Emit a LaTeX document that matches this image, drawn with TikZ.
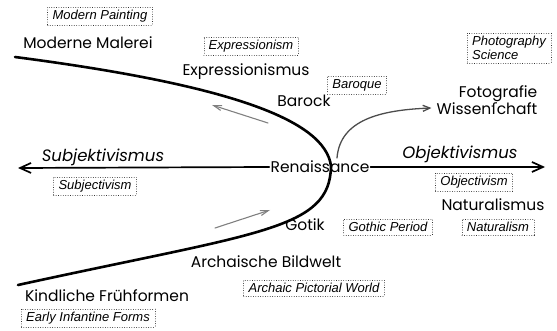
\documentclass[tikz,border=0pt]{standalone}
\usepackage{fontspec}
\setmainfont{Liberation Sans}
\newfontfamily\handfont{Poppins}
\newfontfamily\longsfont{DejaVu Sans}
\usetikzlibrary{arrows.meta}

\begin{document}
\begin{tikzpicture}[x=1pt, y=-1pt, line cap=round,
        german_style/.style={font=\handfont\fontsize{15.5}{17}\selectfont, inner sep=1pt, align=right},
        german_italic_style/.style={german_style, font=\handfont\itshape\fontsize{16.5}{18}\selectfont},
        english_style/.style={draw=black!80, dotted, thin, font=\itshape\fontsize{13}{14}\selectfont, inner xsep=5pt, inner ysep=3pt, align=left},
        curve_style/.style={draw=black, line width=2.6pt},
        axis_style/.style={draw=black, line width=1.7pt, -{Straight Barb[length=11pt,width=10pt]}},
        branch_style/.style={draw=black!70, line width=1.3pt, -{Straight Barb[length=7pt,width=6pt]}},
        flow_style/.style={draw=black!50, line width=1.1pt, -{Straight Barb[length=8pt,width=5pt]}}]

        \useasboundingbox (0,0) rectangle (557,331);

        \node [german_style](renaissance) at (320,167) {Renaissance};
        \node [german_style](moderne) at (88,43) {Moderne Malerei};
        \node [german_style](expressionismus) at (246,72) {Expressionismus};
        \node [german_style](barock) at (304,101) {Barock};
        \node [german_style](fotografie) at (487,100) {Fotografie\\Wissen{\longsfont ſ}chaft};
        \node [german_italic_style](subjektivismus) at (103,157) {Subjektivismus};
        \node [german_italic_style](objektivismus) at (460,154) {Objektivismus};
        \node [german_style](naturalismus) at (493,205) {Naturalismus};
        \node [german_style](gotik) at (305,225) {Gotik};
        \node [german_style](archaisch) at (266,262) {Archaische Bildwelt};
        \node [german_style](kindlich) at (107,296) {Kindliche Frühformen};

        \node [english_style](modern_en) at (100,16) {Modern Painting};
        \node [english_style](expressionism_en) at (251,46) {Expressionism};
        \node [english_style](baroque_en) at (357,85) {Baroque};
        \node [english_style](photography_en) at (509,48) {Photography\\Science};
        \node [english_style](subjectivism_en) at (95,186) {Subjectivism};
        \node [english_style](objectivism_en) at (474,182) {Objectivism};
        \node [english_style](naturalism_en) at (498,227) {Naturalism};
        \node [english_style](gothic_en) at (388,227) {Gothic Period};
        \node [english_style](archaic_en) at (314,288) {Archaic Pictorial World};
        \node [english_style](infantine_en) at (88,318) {Early Infantine Forms};

        \coordinate (vertex) at (331,166);
        \coordinate (top_end) at (15,57);
        \coordinate (bottom_end) at (18,285);
        \coordinate (left_end) at (18,168);
        \coordinate (right_end) at (545,167);
        \coordinate (upper_flow_tail) at (268,123);
        \coordinate (upper_flow_tip) at (212,105);
        \coordinate (lower_flow_tail) at (215,228);
        \coordinate (lower_flow_tip) at (270,210);

        \draw [curve_style] (top_end) .. controls (230,85) and (325,120) .. (vertex)
            .. controls (330,230) and (260,232) .. (bottom_end);
        \draw [axis_style] (renaissance.west) -- (left_end);
        \draw [axis_style] (renaissance.east) -- (right_end);
        \draw [branch_style] ([shift={(6,-8)}]vertex) .. controls (340,120) and (380,110) .. ([shift={(-4,8)}]fotografie.west);
        \draw [flow_style] (upper_flow_tail) -- (upper_flow_tip);
        \draw [flow_style] (lower_flow_tail) -- (lower_flow_tip);
        \end{tikzpicture}
\end{document}
